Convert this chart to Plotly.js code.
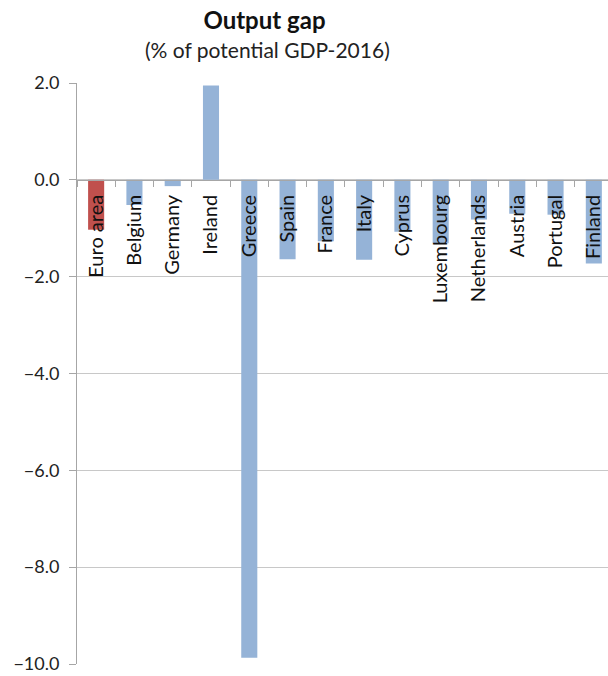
<!DOCTYPE html>
<html>
<head>
<meta charset="utf-8">
<script src="https://cdn.plot.ly/plotly-3.0.1.min.js"></script>
<style>
  html, body { margin: 0; padding: 0; background: #fff; }
  #grafico { width: 608px; height: 676px; }
</style>
</head>
<body>
<div id="grafico"></div>
<script>
const paises = ["Euro area", "Belgium", "Germany", "Ireland", "Greece", "Spain", "France",
    "Italy", "Cyprus", "Luxembourg", "Netherlands", "Austria", "Portugal", "Finland"];
const hiato = [-1.03, -0.52, -0.13, 1.95, -9.87, -1.64, -1.27,
    -1.65, -1.07, -1.31, -0.82, -0.70, -0.72, -1.73];
const yTicks = [-10, -8, -6, -4, -2, 0, 2];

const corBarra = "#95b3d7";
const corEuro = "#c0504d";
const fonte = "Lato, 'Open Sans', sans-serif";

const trace = {
    type: "bar",
    x: paises,
    y: hiato,
    width: 0.42,
    marker: { color: paises.map(p => (p === "Euro area" ? corEuro : corBarra)) },
    hoverinfo: "x+y",
};

const layout = {
    width: 608,
    height: 676,
    paper_bgcolor: "#fff",
    plot_bgcolor: "#fff",
    showlegend: false,
    margin: { t: 83, r: 0, b: 12, l: 77 },
    font: { family: fonte, color: "#222" },
    title: {
        text: "<b>Output gap</b>",
        font: { size: 24, color: "#111", family: fonte },
        xref: "container", yref: "container",
        x: 0.435, y: 0.97, xanchor: "center", yanchor: "middle",
    },
    annotations: [{
        text: "(% of potential GDP-2016)",
        xref: "paper", yref: "paper",
        x: 0.358, y: 1 + (83 - 49) / 581,
        xanchor: "center", yanchor: "middle",
        showarrow: false,
        font: { size: 21, color: "#222", family: fonte },
    }],
    xaxis: {
        type: "category",
        range: [-0.5, 13.37],
        anchor: "free",
        position: 10 / 12,
        showline: true,
        linecolor: "#a6a6a6",
        linewidth: 1,
        showgrid: false,
        ticks: "outside",
        tickson: "boundaries",
        ticklen: 6,
        tickcolor: "#a6a6a6",
        tickangle: -90,
        tickfont: { size: 20, color: "#111", family: fonte },
        ticklabelstandoff: 6,
        fixedrange: true,
    },
    yaxis: {
        range: [-10, 2],
        tickvals: yTicks,
        tickformat: ".1f",
        showline: true,
        linecolor: "#a6a6a6",
        ticks: "outside",
        ticklen: 7,
        tickcolor: "#a6a6a6",
        gridcolor: "#c8c8c8",
        gridwidth: 1,
        zeroline: false,
        tickfont: { size: 18, color: "#222", family: fonte },
        ticklabelstandoff: 6,
        fixedrange: true,
    },
};

Plotly.newPlot("grafico", [trace], layout, { displayModeBar: false, staticPlot: true });
</script>
</body>
</html>
